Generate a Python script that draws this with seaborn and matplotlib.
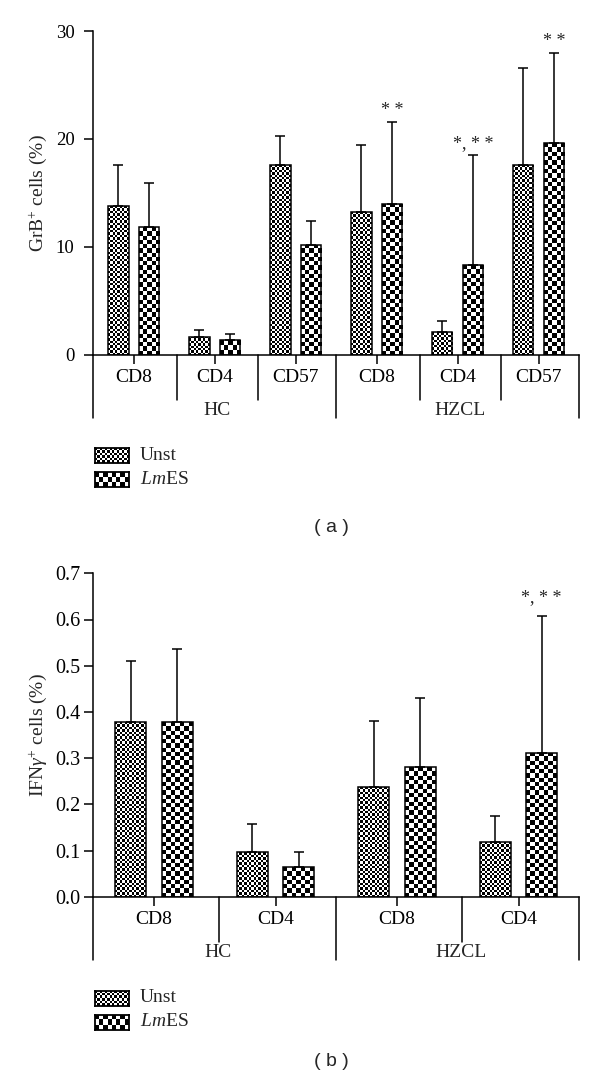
import numpy as np
import pandas as pd
import matplotlib
matplotlib.use("Agg")
import matplotlib.pyplot as plt
import matplotlib.transforms as mtransforms
import seaborn as sns

sns.set_style("ticks")
plt.rcParams['font.family'] = ['Liberation Serif', 'DejaVu Serif']
plt.rcParams['mathtext.fontset'] = 'custom'
plt.rcParams['mathtext.rm'] = 'Liberation Serif'
plt.rcParams['mathtext.it'] = 'Liberation Serif:italic'
plt.rcParams['axes.linewidth'] = 1.1
plt.rcParams['axes.edgecolor'] = 'black'
plt.rcParams['xtick.color'] = 'black'
plt.rcParams['ytick.color'] = 'black'

# panel (a): GrB+ cells (%)
cells_a = ['HC-CD8', 'HC-CD4', 'HC-CD57', 'HZCL-CD8', 'HZCL-CD4', 'HZCL-CD57']
short_a = ['CD8', 'CD4', 'CD57', 'CD8', 'CD4', 'CD57']
unst_a = [13.8, 1.67, 17.6, 13.2, 2.1, 17.6]
unst_a_sd = [3.75, 0.58, 2.7, 6.2, 1.05, 9.0]
lmes_a = [11.85, 1.33, 10.2, 14.0, 8.27, 19.6]
lmes_a_sd = [4.05, 0.55, 2.2, 7.6, 10.23, 8.4]
stars_a = {3: '* *', 4: '*, * *', 5: '* *'}

# panel (b): IFNg+ cells (%)
cells_b = ['HC-CD8', 'HC-CD4', 'HZCL-CD8', 'HZCL-CD4']
short_b = ['CD8', 'CD4', 'CD8', 'CD4']
unst_b = [0.378, 0.096, 0.237, 0.118]
unst_b_sd = [0.133, 0.062, 0.143, 0.057]
lmes_b = [0.378, 0.064, 0.281, 0.312]
lmes_b_sd = [0.158, 0.033, 0.149, 0.296]
stars_b = {3: '*, * *'}

groups = ['HC', 'HZCL']
conds = ['Unst', 'LmES']
cell_px = {'Unst': 2.4, 'LmES': 4.3}

W, H = 600, 1083
fig = plt.figure(figsize=(W / 100, H / 100), dpi=100)


def fbox(left, top, right, bottom):
    return [left / W, 1 - bottom / H, (right - left) / W, (bottom - top) / H]


def checker(nrows, ncols):
    return np.add.outer(np.arange(nrows), np.arange(ncols)) % 2


def make_df(cells, unst, unst_sd, lmes, lmes_sd):
    return pd.DataFrame({
        'cell': cells * 2,
        'cond': ['Unst'] * len(cells) + ['LmES'] * len(cells),
        'value': unst + lmes,
        'sd': unst_sd + lmes_sd,
    })


def draw_panel(ax, df, cells, short, ylim, yticks, fmt, ylabel, stars, per_group,
               star_off, ypad, ysize):
    n = len(cells)
    sns.barplot(data=df, x='cell', y='value', hue='cond', order=cells, hue_order=conds,
                palette=['white', 'white'], width=0.76, gap=0.33, errorbar=None,
                legend=False, edgecolor='black', linewidth=1.1, ax=ax)
    ax.set_xlim(-0.5, n - 0.5)
    ax.set_ylim(*ylim)

    for p in list(ax.patches):
        x0, y0, w, h = p.get_x(), p.get_y(), p.get_width(), p.get_height()
        xc = x0 + w / 2
        i = int(round(xc))
        cond = 'Unst' if xc < i else 'LmES'
        row = df[(df.cell == cells[i]) & (df.cond == cond)].iloc[0]
        (px0, py0), (px1, py1) = ax.transData.transform([(x0, y0), (x0 + w, y0 + h)])
        ncols = max(1, int(round(abs(px1 - px0) / cell_px[cond])))
        nrows = max(1, int(round(abs(py1 - py0) / cell_px[cond])))
        im = ax.imshow(checker(nrows, ncols), cmap='gray', vmin=0, vmax=1,
                       extent=[x0, x0 + w, y0, y0 + h], origin='lower',
                       interpolation='nearest', aspect='auto', zorder=1)
        im.set_clip_path(p)
        p.set_facecolor('none')
        p.set_zorder(3)
        ax.errorbar(xc, row.value, yerr=[[0], [row.sd]], fmt='none', ecolor='black',
                    elinewidth=1.1, capsize=3.6, capthick=1.1, zorder=2)
        if cond == 'LmES' and i in stars:
            ax.annotate(stars[i], xy=(xc, row.value + row.sd), xytext=(0, star_off),
                        textcoords='offset points', ha='center', va='bottom', fontsize=13)

    ax.set_xlim(-0.5, n - 0.5)
    ax.set_ylim(*ylim)
    ax.set_yticks(yticks)
    ax.set_yticklabels([fmt.format(t) for t in yticks])
    ax.set_xticks(range(n))
    ax.set_xticklabels(short)
    ax.set_xlabel('')
    ax.set_ylabel(ylabel, fontsize=14)
    ax.yaxis.set_label_coords(-0.092, 0.5)
    ax.tick_params(axis='y', direction='out', length=6.5, width=1.1, labelsize=ysize, pad=ypad)
    ax.tick_params(axis='x', direction='out', length=6.5, width=1.1, labelsize=14, pad=4)
    sns.despine(ax=ax)

    # category structure below the axis
    trans = mtransforms.blended_transform_factory(ax.transData, ax.transAxes)
    ng = n // per_group
    for g in range(ng + 1):
        x = -0.5 + g * per_group
        ax.plot([x, x], [0, -0.195], transform=trans, clip_on=False, color='black', lw=1.1)
    for g in range(ng):
        for k in range(1, per_group):
            x = -0.5 + g * per_group + k + 0.035
            ax.plot([x, x], [0, -0.14], transform=trans, clip_on=False, color='black', lw=1.1)
        mid = -0.5 + g * per_group + per_group / 2
        ax.text(mid + 0.03, -0.172, groups[g], transform=trans, ha='center', va='center', fontsize=14)


def draw_legend(top1, top2, ymid1, ymid2):
    for cond, top, ymid in [('Unst', top1, ymid1), ('LmES', top2, ymid2)]:
        lax = fig.add_axes(fbox(94.7, top, 128.7, top + 15))
        nc = int(round(34 / cell_px[cond]))
        nr = int(round(15 / cell_px[cond]))
        lax.imshow(checker(nr, nc), cmap='gray', vmin=0, vmax=1, aspect='auto',
                   interpolation='nearest')
        lax.set_xticks([])
        lax.set_yticks([])
        for s in lax.spines.values():
            s.set_linewidth(1.3)
        label = 'Unst' if cond == 'Unst' else r'$\mathit{Lm}$ES'
        fig.text(140 / W, 1 - ymid / H, label, ha='left', va='center', fontsize=14)


ax_a = fig.add_axes(fbox(93.3, 31, 579, 354.7))
df_a = make_df(cells_a, unst_a, unst_a_sd, lmes_a, lmes_a_sd)
draw_panel(ax_a, df_a, cells_a, short_a, (0, 30), [0, 10, 20, 30], '{:.0f}',
           r'GrB$^{+}$ cells (%)', stars_a, 3, 2, 7, 13.5)
draw_legend(448, 472, 455, 480)
fig.text(331 / W, 1 - 527 / H, '( a )', ha='center', va='center', fontsize=14,
         family='Liberation Sans')

ax_b = fig.add_axes(fbox(93.3, 573.3, 579.3, 896.7))
df_b = make_df(cells_b, unst_b, unst_b_sd, lmes_b, lmes_b_sd)
draw_panel(ax_b, df_b, cells_b, short_b, (0, 0.7), [0, 0.1, 0.2, 0.3, 0.4, 0.5, 0.6, 0.7],
           '{:.1f}', r'IFN$\gamma^{+}$ cells (%)', stars_b, 2, 7, 3, 14.5)
draw_legend(991, 1015, 998, 1022)
fig.text(331 / W, 1 - 1062 / H, '( b )', ha='center', va='center', fontsize=14,
         family='Liberation Sans')

fig.savefig('out.png', dpi=100)
